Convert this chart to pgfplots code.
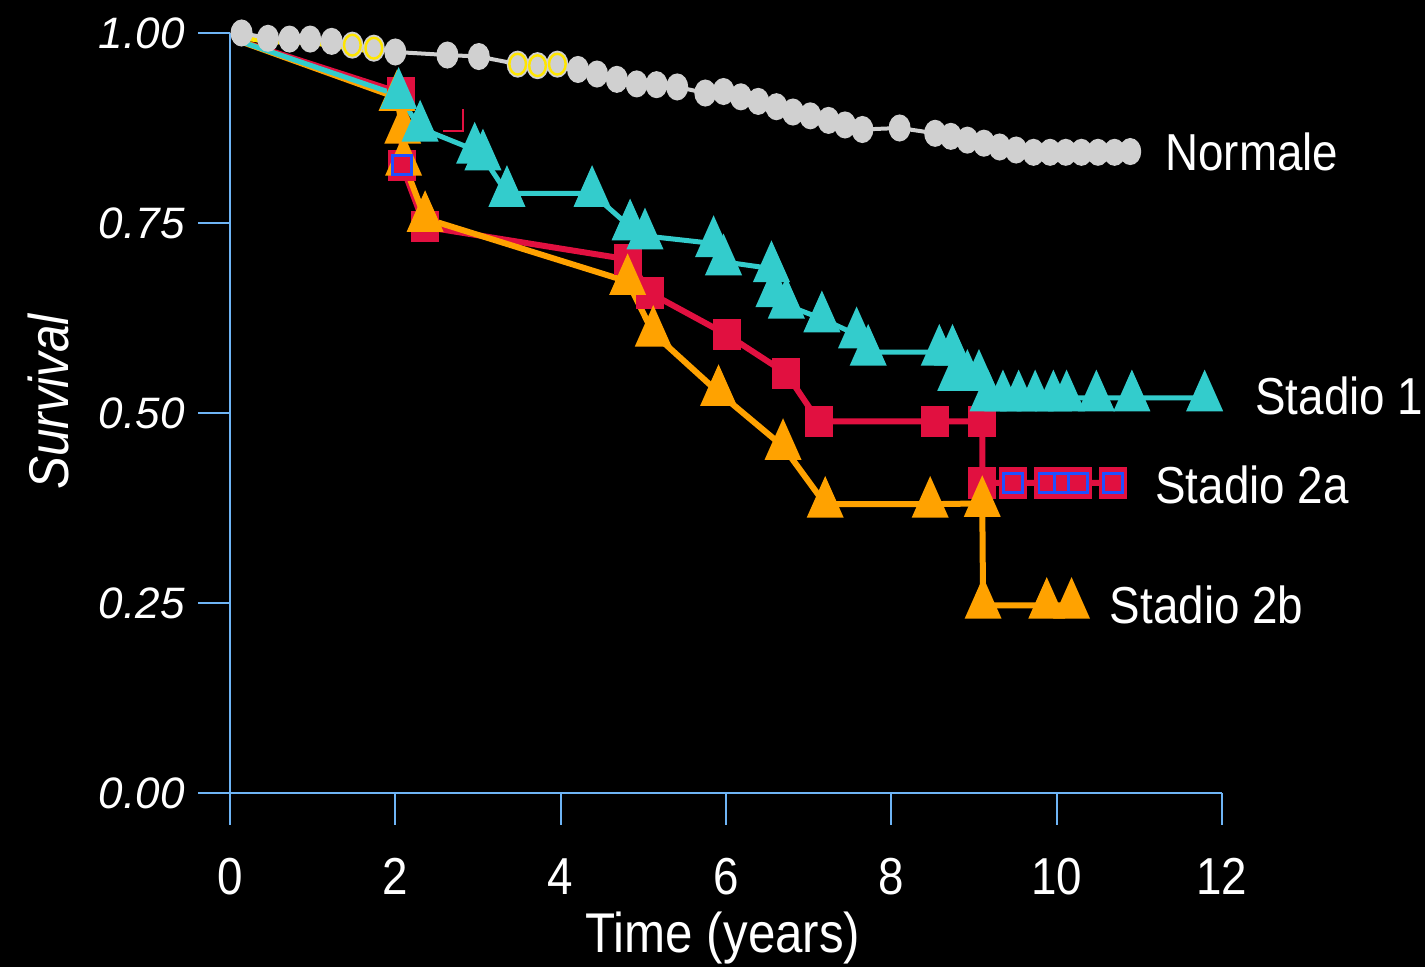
\documentclass[border=0pt]{standalone}
\usepackage{fontspec}
\setmainfont{Liberation Sans}[FakeStretch=0.88]
\newfontfamily\yfont{Liberation Sans}
\usepackage{pgfplots}
\pgfplotsset{compat=1.18}
\definecolor{axisblue}{RGB}{110,180,245}
\definecolor{kmcyan}{RGB}{51,204,204}
\definecolor{kmred}{RGB}{225,16,64}
\definecolor{kmorange}{RGB}{255,162,0}
\definecolor{kmgray}{RGB}{208,208,208}
\definecolor{kmyellow}{RGB}{255,230,0}
\definecolor{kmblue}{RGB}{30,80,255}
\begin{document}
\begin{tikzpicture}
\useasboundingbox (-115pt,-87pt) rectangle (597.5pt,396.5pt);
\fill[black] (-115pt,-87pt) rectangle (597.5pt,396.5pt);
\begin{axis}[
  at={(0,0)}, anchor=south west,
  scale only axis, width=496pt, height=380pt,
  xmin=0, xmax=12, ymin=0, ymax=1,
  axis x line=bottom, axis y line=left,
  axis line style={axisblue, line width=1pt, -},
  xtick={0,2,4,6,8,10,12}, ytick={0,0.25,0.5,0.75,1},
  tick style={axisblue, line width=1pt},
  tick align=outside, major tick length=16pt,
  /pgf/number format/assume math mode=true,
  yticklabel style={/pgf/number format/.cd, fixed, fixed zerofill, precision=2, /tikz/.cd,
    font=\yfont\itshape\fontsize{22}{26}\selectfont, text=white, anchor=east, inner sep=0pt, xshift=-6.5pt},
  xticklabel style={font=\fontsize{26}{30}\selectfont, text=white, anchor=base, inner sep=0pt, yshift=-35pt},
  xlabel={Time (years)},
  xlabel style={at={(axis description cs:0.497,-0.2105)}, anchor=base, inner sep=0pt, font=\fontsize{28}{32}\selectfont, text=white},
  ylabel={\itshape Survival},
  ylabel style={at={(axis description cs:-0.163,0.5145)}, anchor=base, inner sep=0pt, font=\fontsize{28}{32}\selectfont, text=white},
  clip=false,
]
% Stadio 2a (red) line + squares
\addplot[kmred, line width=3pt, mark=square*, mark phase=2, mark repeat=1, mark size=5.5pt,
  mark options={solid, fill=kmred, draw=none, yscale=1.15}] coordinates {
  (0.10,0.990) (2.07,0.921) (2.08,0.826) (2.36,0.745) (4.82,0.702) (5.08,0.658)
  (6.01,0.603) (6.73,0.552) (7.12,0.489) (8.53,0.489) (9.10,0.489) (9.10,0.408)
  (9.47,0.408) (9.90,0.408) (10.09,0.408) (10.26,0.408) (10.68,0.408)
};
\addplot[kmred, line width=1pt] coordinates {(2.58,0.871) (2.82,0.871) (2.82,0.900)};
% Stadio 2b (orange)
\addplot[kmorange, line width=3pt, mark=triangle*, mark phase=2, mark repeat=1, mark size=8pt,
  mark options={solid, fill=kmorange, draw=none, yscale=1.3}] coordinates {
  (0.10,0.990) (2.02,0.915) (2.09,0.872) (2.10,0.830) (2.36,0.756) (4.81,0.673)
  (5.12,0.605) (5.91,0.527) (6.69,0.456) (7.20,0.380) (8.47,0.380) (9.10,0.381)
  (9.11,0.247) (9.88,0.247) (10.18,0.247)
};
% Stadio 1 (cyan)
\addplot[kmcyan, line width=2.5pt, mark=triangle*, mark phase=2, mark repeat=1, mark size=8.5pt,
  mark options={solid, fill=kmcyan, draw=none, yscale=1.3}] coordinates {
  (0.12,0.989) (2.04,0.918) (2.30,0.875) (2.96,0.846) (3.06,0.837) (3.35,0.789)
  (4.38,0.789) (4.84,0.745) (5.02,0.733) (5.85,0.723) (5.97,0.699) (6.55,0.690)
  (6.58,0.657) (6.73,0.642) (7.16,0.624) (7.58,0.603) (7.72,0.580) (8.58,0.580)
  (8.74,0.580) (8.78,0.547) (8.92,0.547) (9.06,0.547) (9.17,0.520) (9.35,0.520)
  (9.54,0.520) (9.74,0.520) (9.96,0.520) (10.12,0.520) (10.48,0.520) (10.91,0.520)
  (11.79,0.520)
};
% Stadio 2a censored (blue outlined)
\addplot[only marks, mark=square*, mark size=4.75pt,
  mark options={fill=kmred, draw=kmblue, line width=1.3pt}] coordinates {
  (2.08,0.826) (9.47,0.408) (9.90,0.408) (10.09,0.408) (10.26,0.408) (10.68,0.408)
};
% Normale (gray)
\addplot[kmyellow, line width=3.5pt] coordinates {(0.05,0.997) (0.46,0.990) (0.97,0.989) (1.48,0.981) (1.74,0.977)};
\addplot[kmgray, line width=2pt, mark=*, mark size=5.75pt,
  mark options={solid, fill=kmgray, draw=none, xscale=0.78}] coordinates {
  (0.14,1.000) (0.46,0.993) (0.72,0.992) (0.97,0.992) (1.23,0.989) (1.48,0.984)
  (1.74,0.980) (2.00,0.975) (2.63,0.971) (3.01,0.969) (3.48,0.959) (3.72,0.957)
  (3.96,0.959) (4.21,0.952) (4.44,0.946) (4.68,0.939) (4.92,0.933) (5.16,0.932)
  (5.41,0.929) (5.75,0.921) (5.97,0.923) (6.18,0.916) (6.39,0.910) (6.61,0.903)
  (6.81,0.896) (7.02,0.891) (7.24,0.885) (7.44,0.879) (7.65,0.873) (8.10,0.875)
  (8.53,0.868) (8.72,0.864) (8.92,0.859) (9.12,0.855) (9.31,0.850) (9.51,0.846)
  (9.72,0.843) (9.92,0.843) (10.11,0.843) (10.30,0.843) (10.50,0.843) (10.70,0.843)
  (10.89,0.844)
};
\addplot[only marks, mark=*, mark size=5.2pt,
  mark options={fill=kmgray, draw=kmyellow, line width=1.2pt, xscale=0.8}] coordinates {
  (1.48,0.984) (1.74,0.980) (3.48,0.959) (3.72,0.957) (3.96,0.959)
};
\node[anchor=west, inner sep=0pt, text=white, font=\fontsize{26}{30}\selectfont] at (axis cs:11.31,0.843) {Normale};
\node[anchor=west, inner sep=0pt, text=white, font=\fontsize{26}{30}\selectfont] at (axis cs:12.40,0.522) {Stadio 1};
\node[anchor=west, inner sep=0pt, text=white, font=\fontsize{26}{30}\selectfont] at (axis cs:11.19,0.405) {Stadio 2a};
\node[anchor=west, inner sep=0pt, text=white, font=\fontsize{26}{30}\selectfont] at (axis cs:10.64,0.247) {Stadio 2b};
\end{axis}
\end{tikzpicture}
\end{document}
